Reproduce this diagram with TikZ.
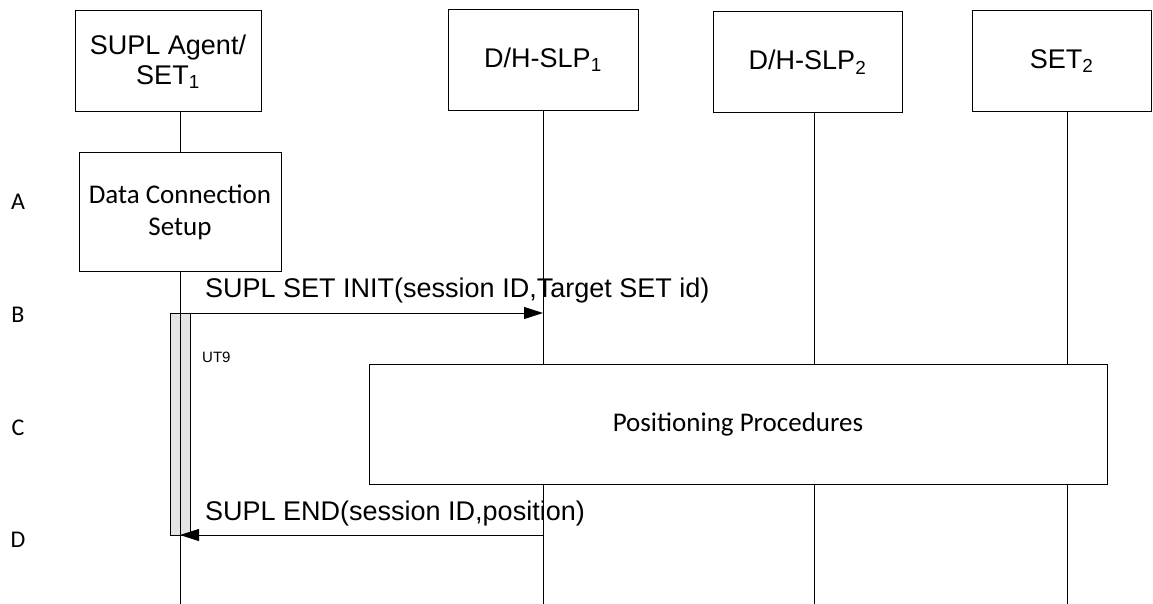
\documentclass[tikz,border=0pt]{standalone}
\usepackage{fontspec}
\setmainfont{Liberation Sans}
\newfontfamily\calibrifont{Carlito}
\usetikzlibrary{arrows.meta,positioning}
\definecolor{barfill}{HTML}{E4E4E4}

\begin{document}
\begin{tikzpicture}[x=1pt,y=-1pt,
  entity/.style={draw,line width=1pt,minimum height=101pt,align=center,inner sep=0pt,font=\fontsize{27}{30}\selectfont},
  procbox/.style={draw,fill=white,line width=1pt,align=center,inner sep=0pt,font=\calibrifont\fontsize{27}{32}\selectfont},
  life/.style={line width=1pt},
  msg/.style={-{Triangle[length=19pt,width=12pt]},line width=1pt},
  msglabel/.style={anchor=west,inner sep=0pt,font=\fontsize{27}{30}\selectfont},
  phase/.style={inner sep=0pt,font=\calibrifont\fontsize{24}{28}\selectfont}
]
\useasboundingbox (0,0) rectangle (1153,604);
% entities
\node[entity,minimum width=186pt] (agent) at (168,61.5) {SUPL Agent/\\SET\textsubscript{1}};
\node[entity,minimum width=190pt] (slp1) at (543,60) {D/H-SLP\textsubscript{1}};
\node[entity,minimum width=189pt] (slp2) at (807.5,62.5) {D/H-SLP\textsubscript{2}};
\node[entity,minimum width=179pt] (set2) at (1061.5,61) {SET\textsubscript{2}};
% lifeline ends
\coordinate (end1) at (180,604);
\coordinate (end2) at (543,604);
\coordinate (end3) at (814,604);
\coordinate (end4) at (1067,604);
% phase letters
\node[phase] (pa) at (18,202) {A};
\node[phase] (pb) at (18,315) {B};
\node[phase] (pc) at (18,428) {C};
\node[phase] (pd) at (18,540) {D};
% data connection + timer
\node[procbox,minimum width=202pt,minimum height=118pt] (dcs) at (180,212) {Data Connection\\Setup};
\node[draw,fill=barfill,line width=1pt,minimum width=20pt,minimum height=222pt,inner sep=0pt] (ut9bar) at (180,424) {};
\node[anchor=west,inner sep=0pt,font=\fontsize{15}{17}\selectfont] (ut9) at (202,357) {UT9};
\draw[life] (agent.south -| end1) -- (dcs.north);
\draw[life] (dcs.south) -- (end1);
\draw[life] (slp1.south) -- (end2);
\draw[life] (slp2.south -| end3) -- (end3);
\draw[life] (set2.south -| end4) -- (end4);
% positioning
\node[procbox,minimum width=738pt,minimum height=120pt] (pos) at (738,424) {Positioning Procedures};
% messages
\coordinate (initfrom) at (180,313);
\coordinate (initto) at (543,313);
\coordinate (endfrom) at (543,535);
\coordinate (endto) at (180,535);
\draw[msg] (initfrom) -- (initto);
\node[msglabel] (initlbl) at (205,291) {SUPL SET INIT(session ID,Target SET id)};
\draw[msg] (endfrom) -- (endto);
\node[msglabel] (endlbl) at (205,514) {SUPL END(session ID,position)};
\end{tikzpicture}
\end{document}
